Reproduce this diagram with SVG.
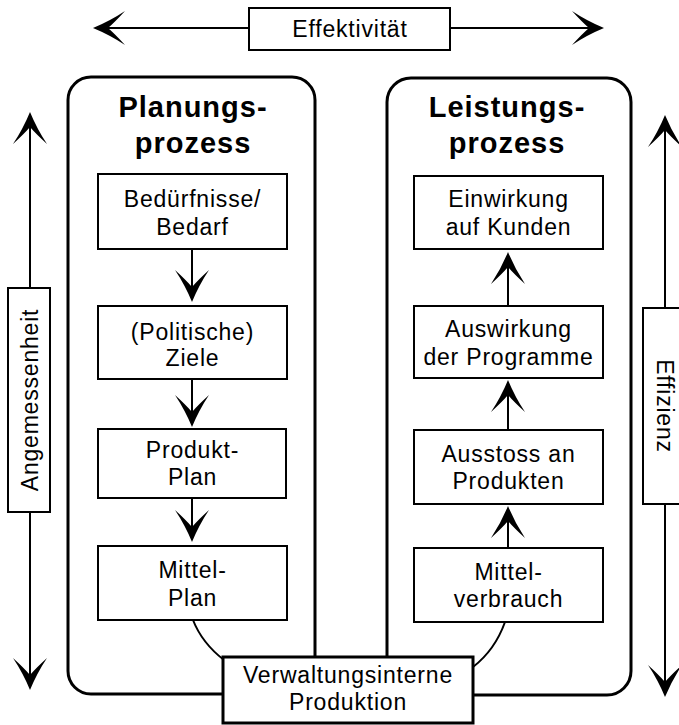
<svg xmlns="http://www.w3.org/2000/svg" xmlns:xlink="http://www.w3.org/1999/xlink" width="679" height="725" viewBox="0 0 679 725">
<style>
  .t { font-family: "Liberation Sans", Arial, sans-serif; font-size: 23px; letter-spacing: 0.8px; fill: #000; text-anchor: middle; }
  .h { font-family: "Liberation Sans", Arial, sans-serif; font-size: 29px; font-weight: bold; letter-spacing: 1px; fill: #000; text-anchor: middle; }
  .box { fill: #fff; stroke: #000; stroke-width: 2; }
  .big { fill: none; stroke: #000; stroke-width: 3; }
  .ln { fill: none; stroke: #000; stroke-width: 2; }
  .head { fill: #000; stroke: none; }
</style>
<defs>
  <path id="ah" class="head" d="M0,0 Q-7,17 -17,32 Q-6,22 0,15 Q6,22 17,32 Q7,17 0,0 Z"/>
</defs>
<rect width="679" height="725" fill="#fff"/>

<g id="planungsprozess">
  <rect class="big" x="68" y="77" width="247" height="617" rx="23"/>
  <text class="h" x="193" y="117">Planungs-</text>
  <text class="h" x="193" y="153">prozess</text>
</g>
<g id="leistungsprozess">
  <rect class="big" x="387" y="78" width="244" height="617" rx="24"/>
  <text class="h" x="507" y="117">Leistungs-</text>
  <text class="h" x="507" y="153">prozess</text>
</g>

<g id="connectors">
  <!-- Effektivität -->
  <line class="ln" x1="100" y1="28" x2="249" y2="28"/>
  <use href="#ah" transform="translate(93,28) rotate(-90)"/>
  <line class="ln" x1="450" y1="28" x2="597" y2="28"/>
  <use href="#ah" transform="translate(604,28) rotate(90)"/>
  <!-- Angemessenheit -->
  <line class="ln" x1="30" y1="120" x2="30" y2="288"/>
  <use href="#ah" transform="translate(30,112)"/>
  <line class="ln" x1="30" y1="512" x2="30" y2="682"/>
  <use href="#ah" transform="translate(30,690) rotate(180)"/>
  <!-- Effizienz -->
  <line class="ln" x1="665" y1="123" x2="665" y2="308"/>
  <use href="#ah" transform="translate(665,115)"/>
  <line class="ln" x1="665" y1="504" x2="665" y2="689"/>
  <use href="#ah" transform="translate(665,697) rotate(180)"/>
  <!-- Planung arrows -->
  <line class="ln" x1="192" y1="249" x2="192" y2="294"/>
  <use href="#ah" transform="translate(192,302) rotate(180)"/>
  <line class="ln" x1="192" y1="379" x2="192" y2="419"/>
  <use href="#ah" transform="translate(192,427) rotate(180)"/>
  <line class="ln" x1="192" y1="498" x2="192" y2="534"/>
  <use href="#ah" transform="translate(192,542) rotate(180)"/>
  <!-- Leistung arrows -->
  <line class="ln" x1="508" y1="548" x2="508" y2="514"/>
  <use href="#ah" transform="translate(508,506)"/>
  <line class="ln" x1="508" y1="430" x2="508" y2="388"/>
  <use href="#ah" transform="translate(508,380)"/>
  <line class="ln" x1="508" y1="306" x2="508" y2="260"/>
  <use href="#ah" transform="translate(508,252)"/>
  <!-- curves to Verwaltung -->
  <path class="ln" d="M193,620 Q202,643 224,660"/>
  <path class="ln" d="M505,622 Q495,650 473,667"/>
</g>

<g id="effektivitaet">
  <rect class="box" x="249" y="8" width="201" height="42"/>
  <text class="t" x="350" y="37">Effektivität</text>
</g>
<g id="angemessenheit">
  <rect class="box" x="8" y="288" width="42" height="224"/>
  <text class="t" transform="translate(38,400) rotate(-90)">Angemessenheit</text>
</g>
<g id="effizienz">
  <rect class="box" x="643" y="308" width="50" height="196"/>
  <text class="t" transform="translate(657,406) rotate(90)">Effizienz</text>
</g>

<g id="beduerfnisse">
  <rect class="box" x="98" y="174" width="189" height="75"/>
  <text class="t" x="192.5" y="207">Bedürfnisse/</text>
  <text class="t" x="192.5" y="235">Bedarf</text>
</g>
<g id="ziele">
  <rect class="box" x="98" y="306" width="189" height="73"/>
  <text class="t" x="192.5" y="340">(Politische)</text>
  <text class="t" x="192.5" y="366">Ziele</text>
</g>
<g id="produktplan">
  <rect class="box" x="98" y="429" width="188" height="69"/>
  <text class="t" x="192.5" y="458">Produkt-</text>
  <text class="t" x="192.5" y="485">Plan</text>
</g>
<g id="mittelplan">
  <rect class="box" x="98" y="546" width="189" height="74"/>
  <text class="t" x="192.5" y="578">Mittel-</text>
  <text class="t" x="192.5" y="606">Plan</text>
</g>

<g id="einwirkung">
  <rect class="box" x="414" y="176" width="189" height="73"/>
  <text class="t" x="508.5" y="207">Einwirkung</text>
  <text class="t" x="508.5" y="235">auf Kunden</text>
</g>
<g id="auswirkung">
  <rect class="box" x="414" y="306" width="189" height="72"/>
  <text class="t" x="508.5" y="337">Auswirkung</text>
  <text class="t" x="508.5" y="365">der Programme</text>
</g>
<g id="ausstoss">
  <rect class="box" x="414" y="430" width="189" height="74"/>
  <text class="t" x="508.5" y="462">Ausstoss an</text>
  <text class="t" x="508.5" y="489">Produkten</text>
</g>
<g id="mittelverbrauch">
  <rect class="box" x="414" y="548" width="189" height="74"/>
  <text class="t" x="508.5" y="580">Mittel-</text>
  <text class="t" x="508.5" y="607">verbrauch</text>
</g>

<g id="verwaltungsinterne">
  <rect x="223" y="657" width="250" height="66" fill="#fff" stroke="#000" stroke-width="3"/>
  <text class="t" x="348" y="683">Verwaltungsinterne</text>
  <text class="t" x="348" y="710">Produktion</text>
</g>
</svg>
